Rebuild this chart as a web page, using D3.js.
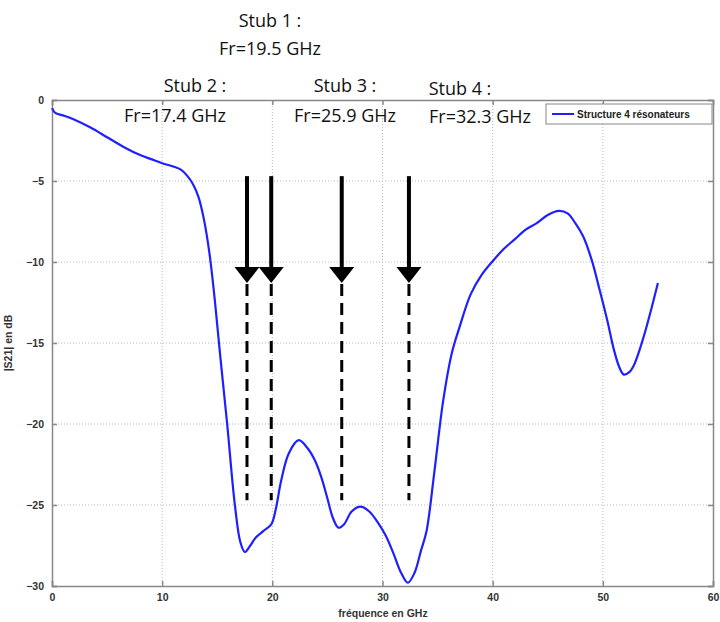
<!DOCTYPE html>
<html><head><meta charset="utf-8">
<script src="https://cdn.jsdelivr.net/npm/d3@7"></script>
<style>body{margin:0;background:#fff}</style>
</head><body>
<svg id="chart" width="720" height="622"></svg>
<script>
const freq = [0,0.3,1,2,3.5,5,6.5,8,9,10,11,11.7,12.3,12.8,13.3,13.8,14.3,14.8,15.3,15.9,16.6,17.1,17.5,18.0,18.5,19.2,19.9,20.3,20.8,21.5,22.4,23.2,23.9,24.5,25.0,25.5,26.0,26.5,27.2,28.0,28.8,29.6,30.3,31.0,31.7,32.3,32.9,33.5,34.0,34.7,35.5,36.3,37.0,38.0,39.0,40.0,41.0,42.0,43.0,44.0,45.0,46.0,46.8,47.5,48.2,49.0,49.7,50.4,51.0,51.5,51.9,52.4,52.8,53.3,53.8,54.4,55.0];
const s21 = [-0.5,-0.8,-0.95,-1.2,-1.7,-2.3,-2.9,-3.4,-3.65,-3.9,-4.1,-4.3,-4.7,-5.2,-6.0,-7.4,-9.5,-12.5,-16.0,-20.0,-25.0,-27.3,-27.9,-27.5,-27.0,-26.6,-26.2,-25.3,-23.5,-21.8,-21.0,-21.5,-22.3,-23.4,-24.6,-25.8,-26.4,-26.2,-25.4,-25.1,-25.4,-26.1,-26.9,-28.0,-29.2,-29.8,-29.2,-27.8,-26.6,-23.0,-18.6,-15.6,-14.0,-12.0,-10.8,-9.95,-9.2,-8.6,-8.0,-7.6,-7.1,-6.85,-7.0,-7.6,-8.4,-9.9,-11.7,-13.6,-15.4,-16.5,-16.95,-16.8,-16.4,-15.5,-14.4,-12.9,-11.3];
const xTicks = [0,10,20,30,40,50,60];
const yTicks = [0,-5,-10,-15,-20,-25,-30];
const seriesName = "Structure 4 résonateurs";
const xLabel = "fréquence en GHz";
const yLabel = "|S21| en dB";
const stubNames = ["Stub 1 :","Stub 2 :","Stub 3 :","Stub 4 :"];
const stubFr = ["Fr=19.5 GHz","Fr=17.4 GHz","Fr=25.9 GHz","Fr=32.3 GHz"];
const arrowFreqs = [17.7, 19.9, 26.3, 32.4];
const arrowTop = -4.7, arrowTip = -11.3, dashEnd = -24.7;

const svg = d3.select("#chart");
const L = 52, R = 713, T = 100, B = 586;
const x = d3.scaleLinear().domain([0,60]).range([L,R]);
const y = d3.scaleLinear().domain([-30,0]).range([B,T]);

// grid
const g = svg.append("g");
g.selectAll(".vg").data(xTicks.slice(1,-1)).join("line")
  .attr("x1",d=>x(d)).attr("x2",d=>x(d)).attr("y1",T).attr("y2",B)
  .attr("stroke","#b8b8b8").attr("stroke-width",1).attr("stroke-dasharray","1,2");
g.selectAll(".hg").data(yTicks.slice(1,-1)).join("line")
  .attr("y1",d=>y(d)).attr("y2",d=>y(d)).attr("x1",L).attr("x2",R)
  .attr("stroke","#b8b8b8").attr("stroke-width",1).attr("stroke-dasharray","1,2");

// axes (ticks inward) on all sides
const axCol = "#888";
const axB = svg.append("g").attr("transform",`translate(0,${B})`).call(d3.axisBottom(x).tickValues(xTicks).tickSize(-5).tickPadding(8));
const axT = svg.append("g").attr("transform",`translate(0,${T})`).call(d3.axisTop(x).tickValues(xTicks).tickSize(-5).tickFormat(""));
const axL = svg.append("g").attr("transform",`translate(${L},0)`).call(d3.axisLeft(y).tickValues(yTicks).tickSize(-5).tickPadding(8));
const axR = svg.append("g").attr("transform",`translate(${R},0)`).call(d3.axisRight(y).tickValues(yTicks).tickSize(-5).tickFormat(""));
[axB,axT,axL,axR].forEach(a=>{
  a.select(".domain").attr("stroke",axCol).attr("stroke-width",1.5);
  a.selectAll(".tick line").attr("stroke",axCol).attr("stroke-width",1.5);
  a.selectAll("text").attr("font-family","Liberation Sans, Arial, sans-serif").attr("font-size",10.5).attr("font-weight","bold").attr("fill","#333");
});

// curve
const line = d3.line().x((d,i)=>x(freq[i])).y(d=>y(d)).curve(d3.curveCatmullRom.alpha(0.5));
svg.append("path").datum(s21).attr("d",line).attr("fill","none").attr("stroke","#1f1fff").attr("stroke-width",2.2);

// arrows
const ag = svg.append("g");
arrowFreqs.forEach(f=>{
  const ax = x(f);
  ag.append("line").attr("x1",ax).attr("x2",ax).attr("y1",y(arrowTop)).attr("y2",y(arrowTip)-10)
    .attr("stroke","#000").attr("stroke-width",4);
  ag.append("path").attr("d",`M${ax-12.5},${y(arrowTip)-16}L${ax+12.5},${y(arrowTip)-16}L${ax},${y(arrowTip)}Z`).attr("fill","#000");
  ag.append("line").attr("x1",ax).attr("x2",ax).attr("y1",y(arrowTip)+1).attr("y2",y(dashEnd))
    .attr("stroke","#000").attr("stroke-width",3).attr("stroke-dasharray","12,7");
});

// stub annotations
const tf = "Open Sans, Noto Sans, sans-serif";
const ann = [
  {n:0, cx:270, y1:27, y2:55},
  {n:1, cx:195, y1:92, y2:122, cx2:175},
  {n:2, cx:345, y1:92, y2:122},
  {n:3, cx:460, y1:95, y2:123, cx2:480}
];
ann.forEach(a=>{
  svg.append("text").attr("x",a.cx).attr("y",a.y1).attr("text-anchor","middle")
    .attr("font-family",tf).attr("font-size",18).attr("fill","#111").text(stubNames[a.n]);
  svg.append("text").attr("x",a.cx2||a.cx).attr("y",a.y2).attr("text-anchor","middle")
    .attr("font-family",tf).attr("font-size",18).attr("fill","#111").text(stubFr[a.n]);
});

// legend
const lg = svg.append("g");
lg.append("rect").attr("x",546).attr("y",104).attr("width",166).attr("height",20).attr("fill","#fff").attr("stroke","#888").attr("stroke-width",1);
lg.append("line").attr("x1",552).attr("x2",574).attr("y1",114).attr("y2",114).attr("stroke","#1f1fff").attr("stroke-width",2);
lg.append("text").attr("x",577).attr("y",118).attr("font-family","Liberation Sans, Arial, sans-serif").attr("font-size",10).attr("font-weight","bold").attr("fill","#222").text(seriesName);

// axis labels
svg.append("text").attr("x",383).attr("y",617).attr("text-anchor","middle").attr("font-family","Liberation Sans, Arial, sans-serif").attr("font-size",10.5).attr("font-weight","bold").attr("fill","#333").text(xLabel);
svg.append("text").attr("transform",`translate(12,${(T+B)/2}) rotate(-90)`).attr("text-anchor","middle").attr("font-family","Liberation Sans, Arial, sans-serif").attr("font-size",10.5).attr("font-weight","bold").attr("fill","#333").text(yLabel);
</script>
</body></html>
